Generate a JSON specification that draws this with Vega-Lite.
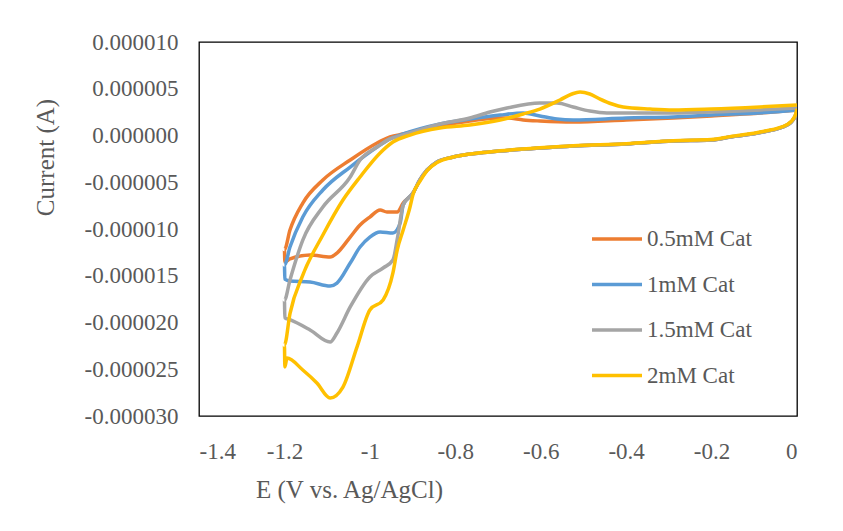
{
  "$schema": "https://vega.github.io/schema/vega-lite/v6.json",
  "width": 598,
  "height": 374,
  "autosize": {"type": "none"},
  "padding": {"left": 199, "top": 42, "right": 46, "bottom": 115},
  "background": "white",
  "config": {
    "view": {"stroke": "#000000", "strokeWidth": 1.3},
    "font": "Liberation Serif"
  },
  "data": {
    "values": [
      {"s": "0.5mM Cat", "E": 0, "I": 2.73e-6},
      {"s": "0.5mM Cat", "E": -0.005, "I": 1.98e-6},
      {"s": "0.5mM Cat", "E": -0.023, "I": 1.12e-6},
      {"s": "0.5mM Cat", "E": -0.08, "I": 0.37e-6},
      {"s": "0.5mM Cat", "E": -0.157, "I": -0.16e-6},
      {"s": "0.5mM Cat", "E": -0.201, "I": -0.48e-6},
      {"s": "0.5mM Cat", "E": -0.29, "I": -0.59e-6},
      {"s": "0.5mM Cat", "E": -0.4, "I": -0.91e-6},
      {"s": "0.5mM Cat", "E": -0.524, "I": -1.12e-6},
      {"s": "0.5mM Cat", "E": -0.602, "I": -1.34e-6},
      {"s": "0.5mM Cat", "E": -0.695, "I": -1.66e-6},
      {"s": "0.5mM Cat", "E": -0.742, "I": -1.87e-6},
      {"s": "0.5mM Cat", "E": -0.805, "I": -2.30e-6},
      {"s": "0.5mM Cat", "E": -0.843, "I": -2.83e-6},
      {"s": "0.5mM Cat", "E": -0.866, "I": -3.69e-6},
      {"s": "0.5mM Cat", "E": -0.883, "I": -4.76e-6},
      {"s": "0.5mM Cat", "E": -0.899, "I": -6.15e-6},
      {"s": "0.5mM Cat", "E": -0.922, "I": -7.22e-6},
      {"s": "0.5mM Cat", "E": -0.936, "I": -8.18e-6},
      {"s": "0.5mM Cat", "E": -0.96, "I": -8.18e-6},
      {"s": "0.5mM Cat", "E": -0.976, "I": -7.97e-6},
      {"s": "0.5mM Cat", "E": -1.0, "I": -8.72e-6},
      {"s": "0.5mM Cat", "E": -1.023, "I": -9.57e-6},
      {"s": "0.5mM Cat", "E": -1.046, "I": -10.86e-6},
      {"s": "0.5mM Cat", "E": -1.077, "I": -12.57e-6},
      {"s": "0.5mM Cat", "E": -1.093, "I": -13.0e-6},
      {"s": "0.5mM Cat", "E": -1.14, "I": -12.78e-6},
      {"s": "0.5mM Cat", "E": -1.187, "I": -13.2e-6},
      {"s": "0.5mM Cat", "E": -1.199, "I": -13.5e-6},
      {"s": "0.5mM Cat", "E": -1.2, "I": -12.2e-6},
      {"s": "0.5mM Cat", "E": -1.187, "I": -10.11e-6},
      {"s": "0.5mM Cat", "E": -1.157, "I": -7.22e-6},
      {"s": "0.5mM Cat", "E": -1.11, "I": -4.76e-6},
      {"s": "0.5mM Cat", "E": -1.046, "I": -2.62e-6},
      {"s": "0.5mM Cat", "E": -0.983, "I": -0.80e-6},
      {"s": "0.5mM Cat", "E": -0.953, "I": -0.16e-6},
      {"s": "0.5mM Cat", "E": -0.922, "I": 0.16e-6},
      {"s": "0.5mM Cat", "E": -0.836, "I": 1.02e-6},
      {"s": "0.5mM Cat", "E": -0.766, "I": 1.55e-6},
      {"s": "0.5mM Cat", "E": -0.695, "I": 1.87e-6},
      {"s": "0.5mM Cat", "E": -0.679, "I": 1.87e-6},
      {"s": "0.5mM Cat", "E": -0.641, "I": 1.66e-6},
      {"s": "0.5mM Cat", "E": -0.602, "I": 1.55e-6},
      {"s": "0.5mM Cat", "E": -0.524, "I": 1.44e-6},
      {"s": "0.5mM Cat", "E": -0.4, "I": 1.66e-6},
      {"s": "0.5mM Cat", "E": -0.29, "I": 1.87e-6},
      {"s": "0.5mM Cat", "E": -0.2, "I": 2.09e-6},
      {"s": "0.5mM Cat", "E": -0.056, "I": 2.51e-6},
      {"s": "0.5mM Cat", "E": 0, "I": 2.73e-6},

      {"s": "1mM Cat", "E": 0, "I": 2.73e-6},
      {"s": "1mM Cat", "E": -0.005, "I": 1.98e-6},
      {"s": "1mM Cat", "E": -0.023, "I": 1.12e-6},
      {"s": "1mM Cat", "E": -0.08, "I": 0.37e-6},
      {"s": "1mM Cat", "E": -0.157, "I": -0.16e-6},
      {"s": "1mM Cat", "E": -0.201, "I": -0.48e-6},
      {"s": "1mM Cat", "E": -0.29, "I": -0.59e-6},
      {"s": "1mM Cat", "E": -0.4, "I": -0.91e-6},
      {"s": "1mM Cat", "E": -0.524, "I": -1.12e-6},
      {"s": "1mM Cat", "E": -0.602, "I": -1.34e-6},
      {"s": "1mM Cat", "E": -0.695, "I": -1.66e-6},
      {"s": "1mM Cat", "E": -0.742, "I": -1.87e-6},
      {"s": "1mM Cat", "E": -0.805, "I": -2.30e-6},
      {"s": "1mM Cat", "E": -0.843, "I": -2.83e-6},
      {"s": "1mM Cat", "E": -0.866, "I": -3.69e-6},
      {"s": "1mM Cat", "E": -0.883, "I": -4.76e-6},
      {"s": "1mM Cat", "E": -0.899, "I": -6.15e-6},
      {"s": "1mM Cat", "E": -0.922, "I": -7.43e-6},
      {"s": "1mM Cat", "E": -0.929, "I": -9.36e-6},
      {"s": "1mM Cat", "E": -0.946, "I": -10.43e-6},
      {"s": "1mM Cat", "E": -0.976, "I": -10.32e-6},
      {"s": "1mM Cat", "E": -1.0, "I": -10.86e-6},
      {"s": "1mM Cat", "E": -1.023, "I": -11.93e-6},
      {"s": "1mM Cat", "E": -1.046, "I": -13.64e-6},
      {"s": "1mM Cat", "E": -1.077, "I": -15.78e-6},
      {"s": "1mM Cat", "E": -1.093, "I": -16.1e-6},
      {"s": "1mM Cat", "E": -1.14, "I": -15.67e-6},
      {"s": "1mM Cat", "E": -1.187, "I": -15.56e-6},
      {"s": "1mM Cat", "E": -1.199, "I": -15.35e-6},
      {"s": "1mM Cat", "E": -1.2, "I": -13.85e-6},
      {"s": "1mM Cat", "E": -1.187, "I": -11.93e-6},
      {"s": "1mM Cat", "E": -1.157, "I": -8.72e-6},
      {"s": "1mM Cat", "E": -1.11, "I": -5.83e-6},
      {"s": "1mM Cat", "E": -1.046, "I": -3.37e-6},
      {"s": "1mM Cat", "E": -0.983, "I": -1.23e-6},
      {"s": "1mM Cat", "E": -0.953, "I": -0.37e-6},
      {"s": "1mM Cat", "E": -0.922, "I": 0.16e-6},
      {"s": "1mM Cat", "E": -0.836, "I": 1.23e-6},
      {"s": "1mM Cat", "E": -0.766, "I": 1.76e-6},
      {"s": "1mM Cat", "E": -0.695, "I": 2.19e-6},
      {"s": "1mM Cat", "E": -0.641, "I": 2.41e-6},
      {"s": "1mM Cat", "E": -0.602, "I": 2.09e-6},
      {"s": "1mM Cat", "E": -0.562, "I": 1.76e-6},
      {"s": "1mM Cat", "E": -0.524, "I": 1.66e-6},
      {"s": "1mM Cat", "E": -0.4, "I": 1.87e-6},
      {"s": "1mM Cat", "E": -0.29, "I": 1.98e-6},
      {"s": "1mM Cat", "E": -0.2, "I": 2.19e-6},
      {"s": "1mM Cat", "E": -0.056, "I": 2.51e-6},
      {"s": "1mM Cat", "E": 0, "I": 2.73e-6},

      {"s": "1.5mM Cat", "E": 0, "I": 2.73e-6},
      {"s": "1.5mM Cat", "E": -0.005, "I": 1.98e-6},
      {"s": "1.5mM Cat", "E": -0.023, "I": 1.12e-6},
      {"s": "1.5mM Cat", "E": -0.08, "I": 0.37e-6},
      {"s": "1.5mM Cat", "E": -0.157, "I": -0.16e-6},
      {"s": "1.5mM Cat", "E": -0.201, "I": -0.48e-6},
      {"s": "1.5mM Cat", "E": -0.29, "I": -0.59e-6},
      {"s": "1.5mM Cat", "E": -0.4, "I": -0.91e-6},
      {"s": "1.5mM Cat", "E": -0.524, "I": -1.12e-6},
      {"s": "1.5mM Cat", "E": -0.602, "I": -1.34e-6},
      {"s": "1.5mM Cat", "E": -0.695, "I": -1.66e-6},
      {"s": "1.5mM Cat", "E": -0.742, "I": -1.87e-6},
      {"s": "1.5mM Cat", "E": -0.805, "I": -2.30e-6},
      {"s": "1.5mM Cat", "E": -0.843, "I": -2.83e-6},
      {"s": "1.5mM Cat", "E": -0.866, "I": -3.69e-6},
      {"s": "1.5mM Cat", "E": -0.883, "I": -4.76e-6},
      {"s": "1.5mM Cat", "E": -0.899, "I": -6.15e-6},
      {"s": "1.5mM Cat", "E": -0.922, "I": -7.43e-6},
      {"s": "1.5mM Cat", "E": -0.935, "I": -10.86e-6},
      {"s": "1.5mM Cat", "E": -0.946, "I": -13.32e-6},
      {"s": "1.5mM Cat", "E": -0.969, "I": -14.17e-6},
      {"s": "1.5mM Cat", "E": -1.0, "I": -15.13e-6},
      {"s": "1.5mM Cat", "E": -1.046, "I": -18.34e-6},
      {"s": "1.5mM Cat", "E": -1.077, "I": -21.12e-6},
      {"s": "1.5mM Cat", "E": -1.093, "I": -22.09e-6},
      {"s": "1.5mM Cat", "E": -1.14, "I": -20.8e-6},
      {"s": "1.5mM Cat", "E": -1.187, "I": -19.7e-6},
      {"s": "1.5mM Cat", "E": -1.199, "I": -19.5e-6},
      {"s": "1.5mM Cat", "E": -1.2, "I": -17.6e-6},
      {"s": "1.5mM Cat", "E": -1.187, "I": -15.45e-6},
      {"s": "1.5mM Cat", "E": -1.157, "I": -11.18e-6},
      {"s": "1.5mM Cat", "E": -1.11, "I": -7.65e-6},
      {"s": "1.5mM Cat", "E": -1.046, "I": -4.44e-6},
      {"s": "1.5mM Cat", "E": -1.023, "I": -2.62e-6},
      {"s": "1.5mM Cat", "E": -0.983, "I": -1.23e-6},
      {"s": "1.5mM Cat", "E": -0.953, "I": -0.37e-6},
      {"s": "1.5mM Cat", "E": -0.922, "I": 0.05e-6},
      {"s": "1.5mM Cat", "E": -0.836, "I": 1.23e-6},
      {"s": "1.5mM Cat", "E": -0.766, "I": 1.87e-6},
      {"s": "1.5mM Cat", "E": -0.719, "I": 2.51e-6},
      {"s": "1.5mM Cat", "E": -0.679, "I": 2.94e-6},
      {"s": "1.5mM Cat", "E": -0.602, "I": 3.48e-6},
      {"s": "1.5mM Cat", "E": -0.562, "I": 3.48e-6},
      {"s": "1.5mM Cat", "E": -0.524, "I": 3.05e-6},
      {"s": "1.5mM Cat", "E": -0.485, "I": 2.62e-6},
      {"s": "1.5mM Cat", "E": -0.445, "I": 2.41e-6},
      {"s": "1.5mM Cat", "E": -0.29, "I": 2.41e-6},
      {"s": "1.5mM Cat", "E": -0.2, "I": 2.51e-6},
      {"s": "1.5mM Cat", "E": -0.087, "I": 2.73e-6},
      {"s": "1.5mM Cat", "E": 0, "I": 2.94e-6},

      {"s": "2mM Cat", "E": 0, "I": 2.85e-6},
      {"s": "2mM Cat", "E": -0.005, "I": 2.05e-6},
      {"s": "2mM Cat", "E": -0.023, "I": 1.18e-6},
      {"s": "2mM Cat", "E": -0.08, "I": 0.42e-6},
      {"s": "2mM Cat", "E": -0.157, "I": -0.12e-6},
      {"s": "2mM Cat", "E": -0.201, "I": -0.44e-6},
      {"s": "2mM Cat", "E": -0.29, "I": -0.56e-6},
      {"s": "2mM Cat", "E": -0.4, "I": -0.88e-6},
      {"s": "2mM Cat", "E": -0.524, "I": -1.10e-6},
      {"s": "2mM Cat", "E": -0.602, "I": -1.32e-6},
      {"s": "2mM Cat", "E": -0.695, "I": -1.64e-6},
      {"s": "2mM Cat", "E": -0.742, "I": -1.85e-6},
      {"s": "2mM Cat", "E": -0.805, "I": -2.30e-6},
      {"s": "2mM Cat", "E": -0.843, "I": -2.90e-6},
      {"s": "2mM Cat", "E": -0.866, "I": -3.75e-6},
      {"s": "2mM Cat", "E": -0.883, "I": -4.9e-6},
      {"s": "2mM Cat", "E": -0.899, "I": -6.3e-6},
      {"s": "2mM Cat", "E": -0.906, "I": -7.65e-6},
      {"s": "2mM Cat", "E": -0.922, "I": -10.11e-6},
      {"s": "2mM Cat", "E": -0.936, "I": -12.25e-6},
      {"s": "2mM Cat", "E": -0.946, "I": -14.7e-6},
      {"s": "2mM Cat", "E": -0.969, "I": -17.59e-6},
      {"s": "2mM Cat", "E": -1.0, "I": -18.66e-6},
      {"s": "2mM Cat", "E": -1.03, "I": -22.6e-6},
      {"s": "2mM Cat", "E": -1.063, "I": -26.9e-6},
      {"s": "2mM Cat", "E": -1.093, "I": -28.07e-6},
      {"s": "2mM Cat", "E": -1.124, "I": -26.47e-6},
      {"s": "2mM Cat", "E": -1.157, "I": -25.08e-6},
      {"s": "2mM Cat", "E": -1.194, "I": -23.8e-6},
      {"s": "2mM Cat", "E": -1.199, "I": -24.76e-6},
      {"s": "2mM Cat", "E": -1.2, "I": -22.4e-6},
      {"s": "2mM Cat", "E": -1.187, "I": -19.04e-6},
      {"s": "2mM Cat", "E": -1.157, "I": -14.92e-6},
      {"s": "2mM Cat", "E": -1.11, "I": -10.64e-6},
      {"s": "2mM Cat", "E": -1.063, "I": -6.9e-6},
      {"s": "2mM Cat", "E": -1.023, "I": -4.44e-6},
      {"s": "2mM Cat", "E": -0.976, "I": -1.87e-6},
      {"s": "2mM Cat", "E": -0.946, "I": -0.70e-6},
      {"s": "2mM Cat", "E": -0.906, "I": 0.05e-6},
      {"s": "2mM Cat", "E": -0.836, "I": 0.80e-6},
      {"s": "2mM Cat", "E": -0.766, "I": 1.12e-6},
      {"s": "2mM Cat", "E": -0.695, "I": 1.66e-6},
      {"s": "2mM Cat", "E": -0.641, "I": 2.30e-6},
      {"s": "2mM Cat", "E": -0.602, "I": 2.83e-6},
      {"s": "2mM Cat", "E": -0.555, "I": 3.8e-6},
      {"s": "2mM Cat", "E": -0.527, "I": 4.44e-6},
      {"s": "2mM Cat", "E": -0.508, "I": 4.65e-6},
      {"s": "2mM Cat", "E": -0.485, "I": 4.44e-6},
      {"s": "2mM Cat", "E": -0.461, "I": 3.9e-6},
      {"s": "2mM Cat", "E": -0.433, "I": 3.37e-6},
      {"s": "2mM Cat", "E": -0.407, "I": 3.05e-6},
      {"s": "2mM Cat", "E": -0.344, "I": 2.83e-6},
      {"s": "2mM Cat", "E": -0.29, "I": 2.73e-6},
      {"s": "2mM Cat", "E": -0.201, "I": 2.83e-6},
      {"s": "2mM Cat", "E": -0.087, "I": 3.05e-6},
      {"s": "2mM Cat", "E": 0, "I": 3.26e-6}
    ]
  },
  "mark": {"type": "line", "strokeWidth": 3.5, "interpolate": "monotone", "clip": true},
  "encoding": {
    "x": {
      "field": "E",
      "type": "quantitative",
      "scale": {"domain": [-1.4, 0], "nice": false, "zero": false},
      "axis": {
        "values": [-1.4, -1.2, -1, -0.8, -0.6, -0.4, -0.2, 0],
        "labelExpr": "replace(format(datum.value, '~g'), '\u2212', '-')",
        "grid": false,
        "ticks": false,
        "domain": false,
        "labelFont": "Liberation Serif",
        "labelFontSize": 23,
        "labelColor": "#595959",
        "labelPadding": 24,
        "title": "E (V vs. Ag/AgCl)",
        "titleFont": "Liberation Serif",
        "titleFontSize": 25,
        "titleFontWeight": "normal",
        "titleColor": "#595959",
        "titleX": 150,
        "titleY": 81,
        "titleBaseline": "alphabetic"
      }
    },
    "y": {
      "field": "I",
      "type": "quantitative",
      "scale": {"domain": [-0.00003, 0.00001], "nice": false, "zero": false},
      "axis": {
        "values": [-0.00003, -0.000025, -0.00002, -0.000015, -0.00001, -0.000005, 0, 0.000005, 0.00001],
        "labelExpr": "replace(format(datum.value, '.6f'), '\u2212', '-')",
        "grid": false,
        "ticks": false,
        "domain": false,
        "labelFont": "Liberation Serif",
        "labelFontSize": 23,
        "labelColor": "#595959",
        "labelPadding": 21,
        "title": "Current (A)",
        "titleFont": "Liberation Serif",
        "titleFontSize": 25,
        "titleFontWeight": "normal",
        "titleColor": "#595959",
        "titleX": -146,
        "titleY": 115,
        "titleAngle": -90,
        "titleBaseline": "alphabetic"
      }
    },
    "color": {
      "field": "s",
      "type": "nominal",
      "scale": {
        "domain": ["0.5mM Cat", "1mM Cat", "1.5mM Cat", "2mM Cat"],
        "range": ["#ED7D31", "#5B9BD5", "#A5A5A5", "#FFC000"]
      },
      "legend": {
        "title": null,
        "orient": "none",
        "legendX": 391,
        "legendY": 170,
        "symbolType": "stroke",
        "symbolSize": 2500,
        "symbolStrokeWidth": 3.5,
        "labelFont": "Liberation Serif",
        "labelFontSize": 23,
        "labelColor": "#595959",
        "labelOffset": 3,
        "rowPadding": 6.5
      }
    },
    "order": {"value": null}
  }
}
